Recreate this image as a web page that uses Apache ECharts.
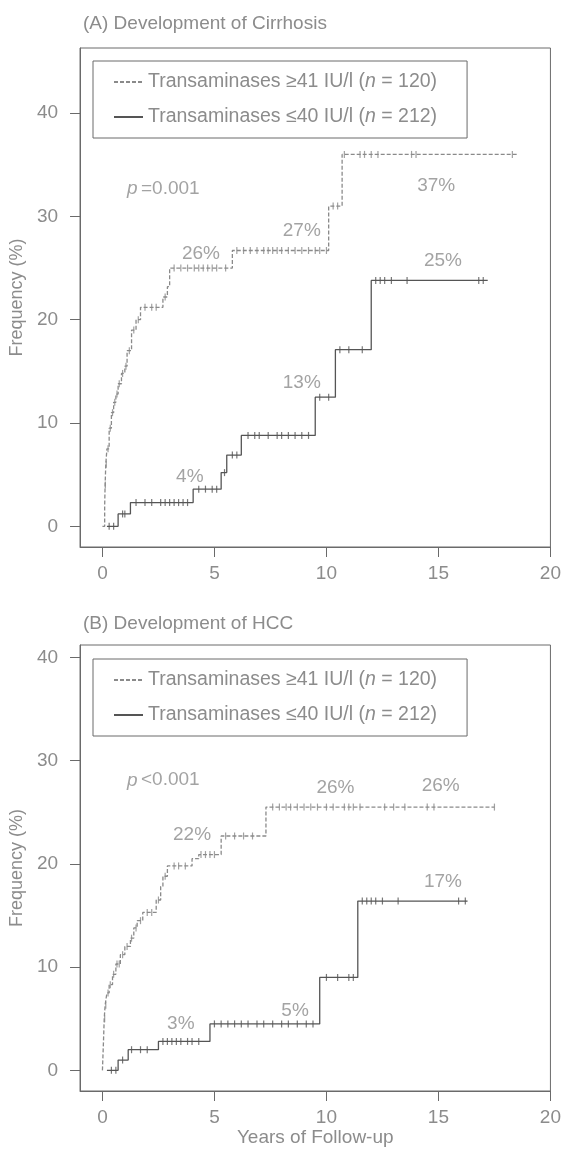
<!DOCTYPE html>
<html>
<head>
<meta charset="utf-8">
<script src="https://cdn.jsdelivr.net/npm/echarts@6/dist/echarts.min.js"></script>
<style>
  html, body { margin: 0; padding: 0; background: #fff; }
  #chart { width: 564px; height: 1151px; }
</style>
</head>
<body>
<div id="chart"></div>
<script>
const GROUPS = ["Transaminases ≥41 IU/l", "Transaminases ≤40 IU/l"];
const GROUP_N = [120, 212];
const X_TICKS = [0, 5, 10, 15, 20];
const Y_TICKS = [0, 10, 20, 30, 40];

// (A) cirrhosis: [years, cumulative %] at each step
const cirrhosisHigh = [[0, 0], [0.1, 2], [0.12, 4], [0.15, 6], [0.2, 7.5], [0.3, 9.5], [0.4, 11], [0.5, 12],
  [0.6, 12.8], [0.7, 13.8], [0.85, 14.8], [1.0, 15.5], [1.1, 17], [1.3, 19], [1.5, 20], [1.7, 21.2],
  [2.7, 22.2], [2.9, 23.2], [3.0, 25], [5.8, 26.7], [10.1, 31], [10.7, 36], [18.5, 36]];
const cirrhosisLow = [[0.2, 0], [0.7, 1.2], [1.25, 2.3], [4.05, 3.6], [5.3, 5.2], [5.55, 6.9], [6.2, 8.8],
  [9.5, 12.5], [10.4, 17.1], [12.0, 23.8], [17.2, 23.8]];
const cirrhosisHighCensored = [0.13, 0.17, 0.25, 0.35, 0.45, 0.55, 0.65, 0.75, 0.9, 1.05, 1.2, 1.4, 1.6,
  1.9, 2.2, 2.4, 2.8, 3.2, 3.5, 3.8, 4.1, 4.3, 4.5, 4.7, 4.9, 5.1, 5.5, 6.0, 6.3, 6.6, 6.9, 7.2, 7.4,
  7.6, 7.8, 8.0, 8.3, 8.6, 8.9, 9.2, 9.5, 9.7, 10.0, 10.3, 10.5, 10.8, 11.5, 11.7, 12.0, 12.3, 13.8,
  14.0, 18.3];
const cirrhosisLowCensored = [0.3, 0.5, 0.9, 1.0, 1.5, 1.9, 2.2, 2.6, 2.8, 3.0, 3.2, 3.4, 3.6, 3.8, 4.3,
  4.6, 4.9, 5.1, 5.45, 5.8, 6.0, 6.5, 6.8, 7.0, 7.4, 7.8, 8.0, 8.3, 8.6, 8.9, 9.2, 9.7, 10.1, 10.6,
  11.0, 11.6, 12.2, 12.4, 12.6, 12.9, 13.6, 16.8, 17.0];
const cirrhosisLabels = [[4.4, 26.4, "26%"], [8.9, 28.6, "27%"], [14.9, 33.0, "37%"],
  [15.2, 25.7, "25%"], [8.9, 13.9, "13%"], [3.9, 4.8, "4%"]];
const cirrhosisP = [[1.1, 32.7, "=0.001"]];

// (B) HCC
const hccHigh = [[0, 0], [0.05, 3], [0.08, 5], [0.12, 6.3], [0.2, 7.5], [0.3, 8.3], [0.45, 9.3],
  [0.6, 10.3], [0.8, 11.2], [1.0, 12], [1.25, 12.8], [1.4, 13.8], [1.55, 14.5], [1.8, 15.3], [2.4, 16.5],
  [2.6, 17.8], [2.7, 18.8], [2.9, 19.8], [4.0, 20.5], [4.3, 20.9], [5.3, 22.7], [7.3, 25.5], [17.5, 25.5]];
const hccLow = [[0.2, 0], [0.7, 1.0], [1.15, 2.0], [2.5, 2.8], [4.8, 4.5], [9.7, 9.0], [11.4, 16.4],
  [16.3, 16.4]];
const hccHighCensored = [0.1, 0.15, 0.25, 0.35, 0.5, 0.65, 0.75, 0.9, 1.1, 1.3, 1.5, 1.7, 2.0, 2.2, 2.5,
  2.8, 3.2, 3.4, 3.7, 4.4, 4.6, 4.8, 5.0, 5.5, 5.9, 6.3, 6.7, 7.6, 7.9, 8.2, 8.4, 8.7, 9.0, 9.3, 9.6,
  10.0, 10.3, 10.8, 11.0, 11.2, 11.5, 12.6, 13.0, 13.5, 14.5, 14.8, 17.5];
const hccLowCensored = [0.4, 0.6, 0.9, 1.3, 1.7, 2.0, 2.7, 2.9, 3.1, 3.3, 3.5, 3.8, 4.0, 4.3, 5.0, 5.3,
  5.6, 5.9, 6.2, 6.5, 6.9, 7.2, 7.6, 8.0, 8.3, 8.7, 9.1, 9.4, 10.0, 10.5, 11.0, 11.2, 11.6, 11.8, 12.0,
  12.2, 12.5, 13.2, 15.9, 16.2];
const hccLabels = [[4.0, 22.8, "22%"], [10.4, 27.4, "26%"], [15.1, 27.6, "26%"], [15.2, 18.3, "17%"],
  [8.6, 5.8, "5%"], [3.5, 4.5, "3%"]];
const hccP = [[1.1, 28.1, "<0.001"]];

const TEXT_COLOR = "#8c8c8c";
const AXIS_COLOR = "#6a6a6a";
const HIGH_COLOR = "#8a8a8a";
const LOW_COLOR = "#555555";
const FONT = "Liberation Sans";

function levelAt(curve, x) {
  let y = curve[0][1];
  curve.forEach(([px, py]) => {
    if (px <= x) {
      y = py;
    }
  });
  return y;
}

function censorPoints(curve, times) {
  return times.map((t) => [t, levelAt(curve, t)]);
}

function legendName(i) {
  return `${GROUPS[i]} (n = ${GROUP_N[i]})`;
}

function makeAxes(gridIndex, yMax, withName) {
  const xAxis = {
    gridIndex,
    type: "value",
    min: -1,
    max: 20,
    axisLine: { show: true, onZero: false, lineStyle: { color: AXIS_COLOR } },
    axisTick: { show: true, customValues: X_TICKS, length: 10, lineStyle: { color: AXIS_COLOR } },
    axisLabel: { customValues: X_TICKS, margin: 17, fontSize: 19, color: TEXT_COLOR, fontFamily: FONT },
    splitLine: { show: false },
  };

  if (withName) {
    xAxis.name = "Years of Follow-up";
    xAxis.nameLocation = "middle";
    xAxis.nameGap = 36;
    xAxis.nameTextStyle = { fontSize: 19, color: TEXT_COLOR, fontFamily: FONT };
  }

  const yAxis = {
    gridIndex,
    type: "value",
    min: -2,
    max: yMax,
    name: "Frequency (%)",
    nameLocation: "middle",
    nameGap: 52,
    nameTextStyle: { fontSize: 18, color: TEXT_COLOR, fontFamily: FONT },
    axisLine: { show: true, onZero: false, lineStyle: { color: AXIS_COLOR } },
    axisTick: { show: true, customValues: Y_TICKS, length: 10, lineStyle: { color: AXIS_COLOR } },
    axisLabel: { customValues: Y_TICKS, margin: 22, fontSize: 19, color: TEXT_COLOR, fontFamily: FONT },
    splitLine: { show: false },
  };

  return { xAxis, yAxis };
}

function makeSeries(idx, high, low, highCens, lowCens, labels, pText) {
  const common = { xAxisIndex: idx, yAxisIndex: idx, silent: true, animation: false };

  return [
    {
      ...common,
      name: legendName(0),
      type: "line",
      step: "end",
      symbol: "none",
      data: high,
      lineStyle: { color: HIGH_COLOR, width: 1.3, type: [4, 2] },
      itemStyle: { color: HIGH_COLOR },
    },
    {
      ...common,
      name: legendName(1),
      type: "line",
      step: "end",
      symbol: "none",
      data: low,
      lineStyle: { color: LOW_COLOR, width: 1.3 },
      itemStyle: { color: LOW_COLOR },
    },
    {
      ...common,
      name: "censor-high-" + idx,
      type: "scatter",
      symbol: "rect",
      symbolSize: [1.2, 7],
      data: censorPoints(high, highCens),
      itemStyle: { color: HIGH_COLOR },
    },
    {
      ...common,
      name: "censor-low-" + idx,
      type: "scatter",
      symbol: "rect",
      symbolSize: [1.2, 7],
      data: censorPoints(low, lowCens),
      itemStyle: { color: LOW_COLOR },
    },
    {
      ...common,
      name: "labels-" + idx,
      type: "scatter",
      symbolSize: 0,
      data: labels,
      label: {
        show: true,
        position: "inside",
        formatter: (p) => p.data[2],
        fontSize: 19,
        color: TEXT_COLOR,
        fontFamily: FONT,
      },
    },
    {
      ...common,
      name: "pvalue-" + idx,
      type: "scatter",
      symbolSize: 0,
      data: pText,
      label: {
        show: true,
        position: "right",
        distance: 0,
        formatter: (p) => `{i|p} {t|${p.data[2]}}`,
        rich: {
          i: { fontSize: 19, fontStyle: "italic", color: TEXT_COLOR, fontFamily: FONT },
          t: { fontSize: 19, color: TEXT_COLOR, fontFamily: FONT },
        },
      },
    },
  ];
}

function makeLegend(top) {
  return {
    top,
    left: 93,
    orient: "vertical",
    data: [legendName(0), legendName(1)],
    selectedMode: false,
    itemWidth: 29,
    itemHeight: 10,
    itemGap: 15,
    padding: [11, 30, 11, 20],
    borderColor: AXIS_COLOR,
    borderWidth: 1,
    itemStyle: { opacity: 0 },
    formatter: (name) => {
      const i = name === legendName(0) ? 0 : 1;
      return `{t|${GROUPS[i]} (}{i|n}{t| = ${GROUP_N[i]})}`;
    },
    textStyle: {
      rich: {
        t: { fontSize: 19.5, color: TEXT_COLOR, fontFamily: FONT },
        i: { fontSize: 19.5, fontStyle: "italic", color: TEXT_COLOR, fontFamily: FONT },
      },
    },
  };
}

const chart = echarts.init(document.getElementById("chart"));
const axesA = makeAxes(0, 46.3, false);
const axesB = makeAxes(1, 41.2, true);

chart.setOption({
  animation: false,
  textStyle: { fontFamily: FONT },
  title: [
    { text: "(A) Development of Cirrhosis", left: 78, top: 9,
      textStyle: { fontSize: 19, fontWeight: "normal", color: TEXT_COLOR, fontFamily: FONT } },
    { text: "(B) Development of HCC", left: 78, top: 609,
      textStyle: { fontSize: 19, fontWeight: "normal", color: TEXT_COLOR, fontFamily: FONT } },
  ],
  legend: [makeLegend(61), makeLegend(659)],
  grid: [
    { left: 79, right: 10, top: 48, height: 499, show: true, borderColor: AXIS_COLOR, borderWidth: 1 },
    { left: 79, right: 10, top: 645, height: 446, show: true, borderColor: AXIS_COLOR, borderWidth: 1 },
  ],
  xAxis: [axesA.xAxis, axesB.xAxis],
  yAxis: [axesA.yAxis, axesB.yAxis],
  series: [
    ...makeSeries(0, cirrhosisHigh, cirrhosisLow, cirrhosisHighCensored, cirrhosisLowCensored,
      cirrhosisLabels, cirrhosisP),
    ...makeSeries(1, hccHigh, hccLow, hccHighCensored, hccLowCensored, hccLabels, hccP),
  ],
});
</script>
</body>
</html>
